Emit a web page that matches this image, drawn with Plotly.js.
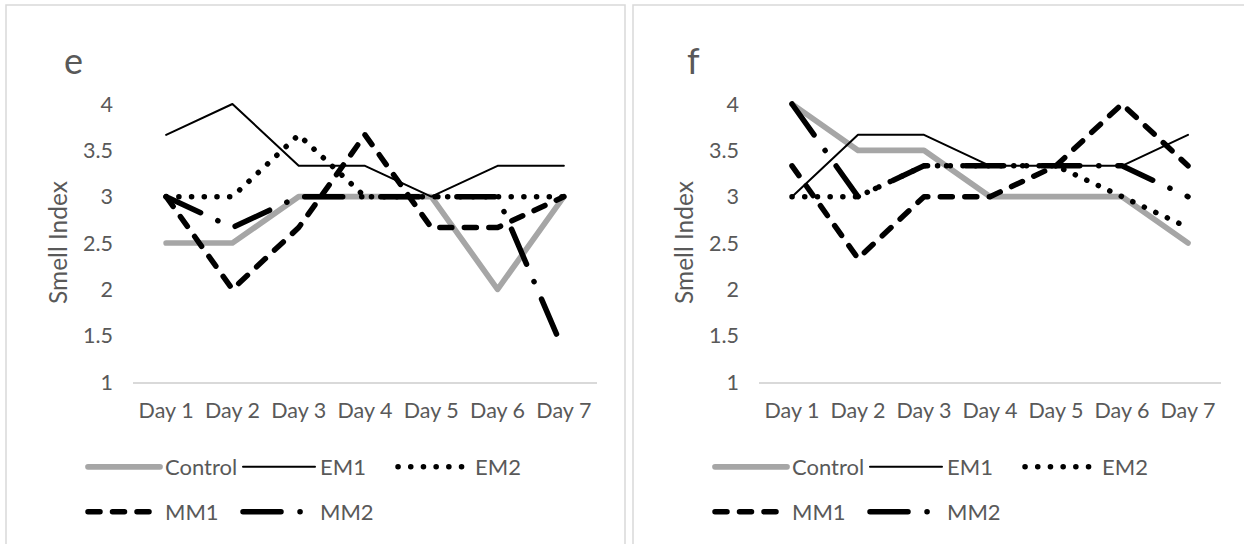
<!DOCTYPE html>
<html>
<head>
<meta charset="utf-8">
<script src="https://cdn.plot.ly/plotly-3.0.1.min.js"></script>
<style>
html,body{margin:0;padding:0;background:#fff;}
#chart{width:1244px;height:544px;}
.js-line{stroke-linecap:round !important;stroke-linejoin:round !important;}
</style>
</head>
<body>
<div id="chart"></div>
<script>
// ---- data ----
const days = ['Day 1','Day 2','Day 3','Day 4','Day 5','Day 6','Day 7'];
const seriesNames = ['Control','EM1','EM2','MM1','MM2'];
const yTickVals = [1,1.5,2,2.5,3,3.5,4];
const yTickText = ['1','1.5','2','2.5','3','3.5','4'];
const panelLabels = ['e','f'];
const yTitle = 'Smell Index';

// panel e
const eControl = [2.5, 2.5, 3, 3, 3, 2, 3];
const eEM1     = [3.667, 4, 3.333, 3.333, 3, 3.333, 3.333];
const eEM2     = [3, 3, 3.667, 3, 3, 3, 3];
const eMM1     = [3, 2, 2.667, 3.667, 2.667, 2.667, 3];
const eMM2     = [3, 2.667, 3, 3, 3, 3, 1.333];

// panel f
const fControl = [4, 3.5, 3.5, 3, 3, 3, 2.5];
const fEM1     = [3, 3.667, 3.667, 3.333, 3.333, 3.333, 3.667];
const fEM2     = [3, 3, 3.333, 3.333, 3.333, 3, 2.667];
const fMM1     = [3.333, 2.333, 3, 3, 3.333, 4, 3.333];
const fMM2     = [4, 3, 3.333, 3.333, 3.333, 3.333, 3];

// ---- styles ----
const W = 1244, H = 544;
const TXT = '#595959';
const FONT = 'Lato, "Open Sans", sans-serif';
const styles = [
  {color:'#a6a6a6', width:5.7, dash:'solid'},
  {color:'#000000', width:2,   dash:'solid'},
  {color:'#000000', width:5.5, dash:'0.1px,12.6px'},
  {color:'#000000', width:5.5, dash:'12px,12.5px'},
  {color:'#000000', width:5.5, dash:'38px,19px,0.1px,19px'}
];

function px(x){return x/W;}
function py(y){return 1 - y/H;}

const panels = [
  {data:[eControl,eEM1,eEM2,eMM1,eMM2], xa:'x', ya:'y', legs:['legend','legend','legend','legend2','legend2']},
  {data:[fControl,fEM1,fEM2,fMM1,fMM2], xa:'x2', ya:'y2', legs:['legend3','legend3','legend3','legend4','legend4']}
];

const traces = [];
panels.forEach(p => {
  p.data.forEach((vals, i) => {
    traces.push({
      type:'scatter', mode:'lines',
      x: days, y: vals, name: seriesNames[i],
      xaxis: p.xa, yaxis: p.ya, legend: p.legs[i],
      line: {color: styles[i].color, width: styles[i].width, dash: styles[i].dash},
      hoverinfo:'skip'
    });
  });
});

const yBottom = 382, yUnit = 92.67;
const yMax = 4.1;
const yTop = yBottom - (yMax - 1) * yUnit;

function xAxis(d0, d1, anchor){
  return {
    domain:[px(d0), px(d1)], anchor: anchor,
    type:'category', range:[-0.5, 6.5],
    showgrid:false, zeroline:false,
    showline:true, linecolor:'#d9d9d9', linewidth:1.5,
    ticks:'', tickangle:0, ticklabelstandoff: 9,
    tickfont:{family:FONT, size:21.5, color:TXT},
    fixedrange:true
  };
}
function yAxis(pos){
  return {
    domain:[py(yBottom), py(yTop)], anchor:'free', position: px(pos),
    range:[1, yMax], tickvals: yTickVals, ticktext: yTickText,
    showgrid:false, zeroline:false, showline:false,
    ticks:'',
    tickfont:{family:FONT, size:21.5, color:TXT},
    fixedrange:true
  };
}
function legend(x, y){
  return {
    orientation:'h', x: px(x), xanchor:'left', y: py(y), yanchor:'middle',
    font:{family:FONT, size:22, color:TXT},
    bgcolor:'rgba(0,0,0,0)', itemwidth: 72, entrywidth: 68, entrywidthmode:'pixels',
    traceorder:'normal', tracegroupgap:0, itemclick:false, itemdoubleclick:false
  };
}
function ann(text, x, y, size, angle){
  return {text:text, xref:'paper', yref:'paper', x:px(x), y:py(y), xanchor:'center', yanchor:'middle',
          showarrow:false, textangle:angle || 0, font:{family:FONT, size:size, color:TXT}};
}

const layout = {
  width: W, height: H,
  margin:{l:0, r:0, t:0, b:0, autoexpand:false},
  paper_bgcolor:'#ffffff', plot_bgcolor:'rgba(0,0,0,0)',
  showlegend:true,
  xaxis: xAxis(133, 597, 'y'),
  yaxis: yAxis(113),
  xaxis2: xAxis(759, 1221, 'y2'),
  yaxis2: yAxis(739),
  legend: legend(83, 467),
  legend2: legend(83, 512),
  legend3: legend(710, 467),
  legend4: legend(710, 512),
  annotations:[
    ann(panelLabels[0], 73, 60, 36),
    ann(panelLabels[1], 693, 60, 36),
    ann(yTitle, 57, 243, 24.5, -90),
    ann(yTitle, 683, 243, 24.5, -90)
  ],
  shapes:[
    {type:'rect', xref:'paper', yref:'paper', x0:px(6), x1:px(625), y0:-0.05, y1:py(5), line:{color:'#d9d9d9', width:1.5}, fillcolor:'rgba(0,0,0,0)', layer:'below'},
    {type:'rect', xref:'paper', yref:'paper', x0:px(633), x1:1.05, y0:-0.05, y1:py(5), line:{color:'#d9d9d9', width:1.5}, fillcolor:'rgba(0,0,0,0)', layer:'below'}
  ]
};

Plotly.newPlot('chart', traces, layout, {staticPlot:true, displayModeBar:false});
</script>
</body>
</html>
